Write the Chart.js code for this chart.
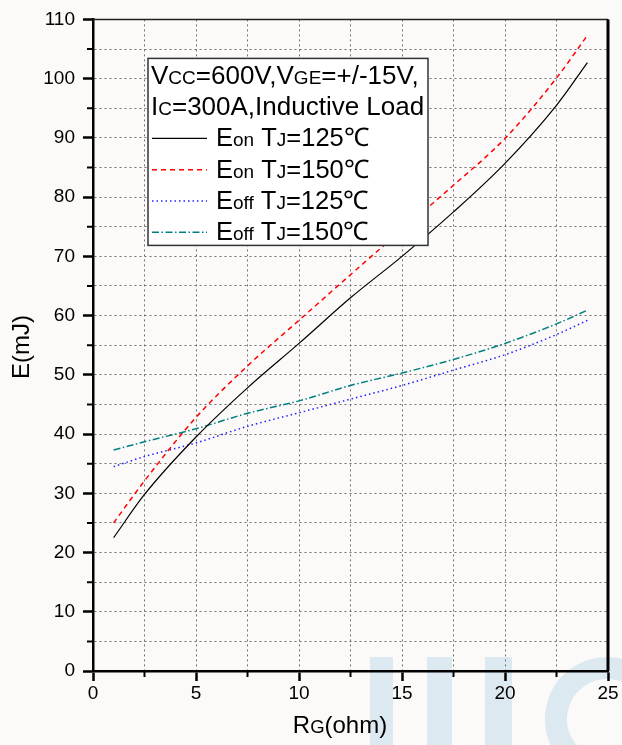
<!DOCTYPE html>
<html>
<head>
<meta charset="utf-8">
<script src="https://cdn.jsdelivr.net/npm/chart.js@4"></script>
<style>
html,body{margin:0;padding:0;background:#fbfaf8;}
canvas{display:block;}
</style>
</head>
<body>
<canvas id="chart" width="622" height="745"></canvas>
<script>
// gate resistance (ohm) and switching energies (mJ)
const rg = [1, 2.5, 5, 7.5, 10, 12.5, 15, 17.5, 20, 22.5, 24];
const eon125 = [22.5, 29.8, 39.5, 47.8, 55.3, 63.0, 70.0, 77.5, 85.7, 95.5, 102.7];
const eon150 = [25.0, 32.1, 42.8, 51.5, 59.2, 66.9, 74.5, 82.0, 89.9, 100.1, 107.3];
const eoff125 = [34.5, 36.2, 38.5, 41.3, 43.6, 45.9, 48.2, 50.8, 53.4, 56.8, 59.2];
const eoff150 = [37.3, 38.7, 40.9, 43.5, 45.6, 48.2, 50.3, 52.6, 55.3, 58.6, 60.9];

const xTickLabels = [0, 5, 10, 15, 20, 25];
const yTickLabels = [0, 10, 20, 30, 40, 50, 60, 70, 80, 90, 100, 110];

const seriesNames = ["Eon TJ=125℃", "Eon TJ=150℃", "Eoff TJ=125℃", "Eoff TJ=150℃"];

const FONT = "'Liberation Sans', Arial, sans-serif";
const bg = "#fbfaf8";

// text pieces: [text, small]
const legendHeader = [
  [["V",0],["CC",1],["=600V,",0],["V",0],["GE",1],["=+/-15V,",0]],
  [["I",0],["C",1],["=300A,Inductive Load",0]]
];
const legendRows = [
  [["E",0],["on",1],[" T",0],["J",1],["=125℃",0]],
  [["E",0],["on",1],[" T",0],["J",1],["=150℃",0]],
  [["E",0],["off",1],[" T",0],["J",1],["=125℃",0]],
  [["E",0],["off",1],[" T",0],["J",1],["=150℃",0]]
];
const xTitle = [["R",0],["G",1],["(ohm)",0]];
const yTitle = "E(mJ)";

function pts(ys) {
  return rg.map((x, i) => ({x: x, y: ys[i]}));
}

function richWidth(ctx, parts, big, small) {
  let w = 0;
  parts.forEach(p => {
    ctx.font = (p[1] ? small : big) + "px " + FONT;
    w += ctx.measureText(p[0]).width;
  });
  return w;
}

function drawRich(ctx, parts, x, y, big, small) {
  parts.forEach(p => {
    ctx.font = (p[1] ? small : big) + "px " + FONT;
    ctx.fillText(p[0], x, y);
    x += ctx.measureText(p[0]).width;
  });
}

const backdrop = {
  id: "backdrop",
  beforeDraw(chart) {
    const ctx = chart.ctx;
    ctx.save();
    ctx.fillStyle = bg;
    ctx.fillRect(0, 0, chart.width, chart.height);
    // faint watermark
    ctx.fillStyle = "#dde9f0";
    ctx.fillRect(370, 657, 23, 88);
    ctx.fillRect(427, 657, 25, 88);
    ctx.fillRect(485, 657, 27, 88);
    ctx.strokeStyle = "#dde9f0";
    ctx.lineWidth = 22;
    ctx.beginPath();
    ctx.arc(607, 719, 51, Math.PI * 0.55, Math.PI * 1.75);
    ctx.stroke();
    ctx.restore();
  }
};

const boxLegend = {
  id: "boxLegend",
  afterDatasetsDraw(chart) {
    const ctx = chart.ctx;
    const a = chart.chartArea;
    const L = a.left + 55, T = a.top + 39, W = 280, H = 187;
    ctx.save();
    ctx.fillStyle = "#ffffff";
    ctx.fillRect(L, T, W, H);
    ctx.strokeStyle = "#333";
    ctx.lineWidth = 1.5;
    ctx.strokeRect(L, T, W, H);
    ctx.fillStyle = "#000";
    ctx.textBaseline = "alphabetic";
    ctx.textAlign = "left";
    drawRich(ctx, legendHeader[0], L + 3, T + 26, 26, 19);
    drawRich(ctx, legendHeader[1], L + 3, T + 57, 26, 19);
    chart.data.datasets.forEach((ds, i) => {
      const base = T + 88 + i * 31.3;
      ctx.strokeStyle = ds.borderColor;
      ctx.lineWidth = ds.borderWidth;
      ctx.setLineDash(ds.borderDash || []);
      ctx.beginPath();
      ctx.moveTo(L + 4, base - 8);
      ctx.lineTo(L + 59, base - 8);
      ctx.stroke();
      ctx.setLineDash([]);
      ctx.fillStyle = "#000";
      drawRich(ctx, legendRows[i], L + 68, base, 25.5, 19);
    });
    ctx.restore();
  }
};

const frame = {
  id: "frame",
  afterDraw(chart) {
    const ctx = chart.ctx;
    const a = chart.chartArea;
    const x = chart.scales.x, y = chart.scales.y;
    ctx.save();
    ctx.strokeStyle = "#000";
    ctx.lineWidth = 2;
    // minor ticks
    ctx.beginPath();
    for (let v = 2.5; v < 25; v += 5) {
      const px = x.getPixelForValue(v);
      ctx.moveTo(px, a.bottom);
      ctx.lineTo(px, a.bottom + 6);
    }
    for (let v = 5; v < 110; v += 10) {
      const py = y.getPixelForValue(v);
      ctx.moveTo(a.left - 6, py);
      ctx.lineTo(a.left, py);
    }
    ctx.stroke();
    // top and right edges
    ctx.lineWidth = 1.5;
    ctx.strokeStyle = "#222";
    ctx.beginPath();
    ctx.moveTo(a.left, a.top);
    ctx.lineTo(a.right, a.top);
    ctx.stroke();
    ctx.lineWidth = 3;
    ctx.strokeStyle = "#000";
    ctx.beginPath();
    ctx.moveTo(a.right, a.top);
    ctx.lineTo(a.right, a.bottom);
    ctx.stroke();
    // axis titles
    ctx.fillStyle = "#000";
    ctx.textAlign = "left";
    ctx.textBaseline = "alphabetic";
    const w = richWidth(ctx, xTitle, 24, 18.5);
    drawRich(ctx, xTitle, 340 - w / 2, 733, 24, 18.5);
    ctx.translate(29, 347);
    ctx.rotate(-Math.PI / 2);
    ctx.textAlign = "center";
    ctx.font = "24px " + FONT;
    ctx.fillText(yTitle, 0, 0);
    ctx.restore();
  }
};

const gridDots = {color: "#707070", lineWidth: 1, tickLength: 10, tickWidth: 2.5};

new Chart(document.getElementById("chart"), {
  type: "line",
  data: {
    datasets: [
      {label: seriesNames[0], data: pts(eon125), borderColor: "#000000", borderWidth: 1.2},
      {label: seriesNames[1], data: pts(eon150), borderColor: "#ff0000", borderWidth: 1.5, borderDash: [5, 4]},
      {label: seriesNames[2], data: pts(eoff125), borderColor: "#2020ff", borderWidth: 1.5, borderDash: [1.5, 3]},
      {label: seriesNames[3], data: pts(eoff150), borderColor: "#008080", borderWidth: 1.5, borderDash: [7, 2.5, 1.5, 2.5]}
    ]
  },
  options: {
    responsive: false,
    animation: false,
    elements: {
      point: {radius: 0},
      line: {tension: 0.4, cubicInterpolationMode: "monotone", fill: false}
    },
    layout: {padding: {top: 17, right: 14, left: 0, bottom: 0}},
    plugins: {
      legend: {display: false},
      tooltip: {enabled: false}
    },
    scales: {
      x: {
        type: "linear",
        min: 0,
        max: 25,
        afterFit: s => { s.height = 74; },
        afterBuildTicks: s => {
          s.ticks = [];
          for (let v = 0; v <= 25; v += 2.5) s.ticks.push({value: v});
        },
        ticks: {
          autoSkip: false,
          maxRotation: 0,
          padding: 1,
          color: "#000",
          font: {family: FONT, size: 19},
          callback: v => xTickLabels.includes(v) ? String(v) : ""
        },
        grid: Object.assign({}, gridDots, {
          tickColor: c => xTickLabels.includes(c.tick.value) ? "#000" : "rgba(0,0,0,0)"
        }),
        border: {color: "#000", width: 2.5, dash: [2, 3]},
        title: {display: false}
      },
      y: {
        type: "linear",
        min: 0,
        max: 110,
        afterFit: s => { s.width = 93; },
        afterBuildTicks: s => {
          s.ticks = [];
          for (let v = 0; v <= 110; v += 5) s.ticks.push({value: v});
        },
        ticks: {
          autoSkip: false,
          padding: 8,
          color: "#000",
          font: {family: FONT, size: 19},
          callback: v => yTickLabels.includes(v) ? String(v) : ""
        },
        grid: Object.assign({}, gridDots, {
          tickColor: c => yTickLabels.includes(c.tick.value) ? "#000" : "rgba(0,0,0,0)"
        }),
        border: {color: "#000", width: 2.5, dash: [2, 3]},
        title: {display: false}
      }
    }
  },
  plugins: [backdrop, boxLegend, frame]
});
</script>
</body>
</html>
